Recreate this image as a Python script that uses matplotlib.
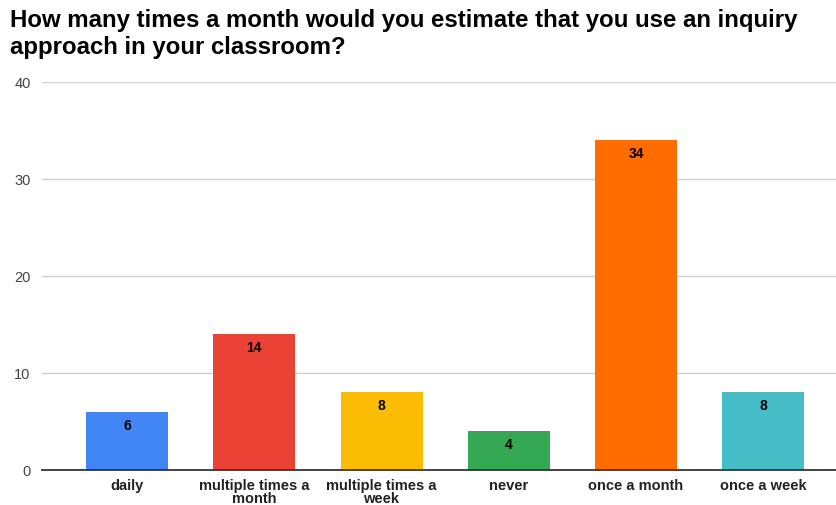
import matplotlib
matplotlib.use("Agg")
import matplotlib.pyplot as plt

categories = ["daily", "multiple times a\nmonth", "multiple times a\nweek", "never", "once a month", "once a week"]
values = [6, 14, 8, 4, 34, 8]
colors = ["#4285F4", "#EA4335", "#FBBC04", "#34A853", "#FF6D01", "#46BDC6"]
yticks = [0, 10, 20, 30, 40]
title = "How many times a month would you estimate that you use an inquiry\napproach in your classroom?"

plt.rcParams['font.family'] = ['Liberation Sans', 'DejaVu Sans']

fig = plt.figure(figsize=(8.37, 5.06), dpi=100)
ax = fig.add_axes([0.050, 0.0692, 0.950, 0.7668])

x = list(range(len(categories)))
bars = ax.bar(x, values, width=0.645, color=colors, zorder=3)
for b, v in zip(bars, values):
    ax.text(b.get_x() + b.get_width() / 2, v - 0.6, str(v), ha="center", va="top",
            fontsize=10, fontweight="bold", color="#000000", zorder=4)

ax.set_xlim(-0.67, 5.58)
ax.set_ylim(0, 40)
ax.set_yticks(yticks)
ax.set_yticklabels([str(t) for t in yticks], fontsize=10.5, color="#444444")
ax.set_xticks(x)
ax.set_xticklabels(categories, fontsize=10.5, fontweight="bold", color="#222222", linespacing=0.85)
ax.tick_params(axis="both", length=0)
ax.tick_params(axis="y", pad=8)
ax.tick_params(axis="x", pad=6)
ax.yaxis.grid(True, color="#d0d0d0", linewidth=1, zorder=0)
for s in ["top", "right", "left"]:
    ax.spines[s].set_visible(False)
ax.spines["bottom"].set_color("#333333")
ax.spines["bottom"].set_linewidth(1.3)
ax.spines["bottom"].set_zorder(5)

fig.text(0.012, 0.982, title, ha="left", va="top", fontsize=17.3, fontweight="bold",
         color="#000000", linespacing=1.2)

fig.savefig("out.png", dpi=100)
